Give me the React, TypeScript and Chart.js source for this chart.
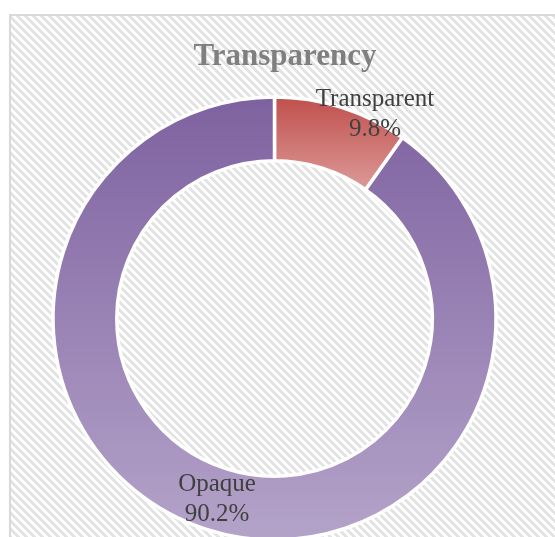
import React, { useEffect, useRef } from "react";
import { Chart, registerables } from "chart.js";

Chart.register(...registerables);

const categories: string[] = ["Transparent", "Opaque"];
const values: number[] = [9.8, 90.2];
const titleText = "Transparency";

const topColors = ["#c0504d", "#7e62a0"];
const bottomColors = ["#dc9a98", "#b4a3c9"];

const OUTER_R = 221.5;
const CUTOUT = 0.712;
// label offsets relative to each arc's center point (px)
const labelOffsets = [
  { dx: 43, dy: -23 },
  { dx: 0, dy: 0 },
];

function makeHatch(ctx: CanvasRenderingContext2D): CanvasPattern | string {
  const c = document.createElement("canvas");
  c.width = 8;
  c.height = 8;
  const p = c.getContext("2d");
  if (!p) return "#f0f0f0";
  p.fillStyle = "#ffffff";
  p.fillRect(0, 0, 8, 8);
  p.fillStyle = "#e3e3e3";
  for (let y = 0; y < 8; y++) {
    for (let x = 0; x < 8; x++) {
      if (((x - y) % 8 + 8) % 8 < 4) p.fillRect(x, y, 1, 1);
    }
  }
  return ctx.createPattern(c, "repeat") || "#f0f0f0";
}

const backgroundPlugin = {
  id: "bgHatch",
  beforeDraw(chart: any) {
    const ctx = chart.ctx as CanvasRenderingContext2D;
    ctx.save();
    ctx.fillStyle = "#ffffff";
    ctx.fillRect(0, 0, chart.width, chart.height);
    ctx.fillStyle = makeHatch(ctx) as any;
    ctx.fillRect(10, 15, chart.width, chart.height);
    ctx.strokeStyle = "#d9d9d9";
    ctx.lineWidth = 2;
    ctx.strokeRect(10, 15, chart.width + 20, chart.height + 20);
    // title
    ctx.fillStyle = "#7f7f7f";
    ctx.font = 'bold 31px "Liberation Serif", "Times New Roman", serif';
    ctx.textAlign = "center";
    ctx.textBaseline = "alphabetic";
    ctx.fillText(titleText, 285, 65);
    ctx.restore();
  },
};

const labelPlugin = {
  id: "sliceLabels",
  afterDatasetsDraw(chart: any) {
    const ctx = chart.ctx as CanvasRenderingContext2D;
    const meta = chart.getDatasetMeta(0);
    const total = values.reduce((a, b) => a + b, 0);
    ctx.save();
    ctx.fillStyle = "#404040";
    ctx.font = '25px "Liberation Serif", "Times New Roman", serif';
    ctx.textAlign = "center";
    ctx.textBaseline = "middle";
    meta.data.forEach((el: any, i: number) => {
      const pt = el.getCenterPoint();
      const off = labelOffsets[i] || { dx: 0, dy: 0 };
      const x = pt.x + off.dx;
      const y = pt.y + off.dy;
      const pct = ((values[i] / total) * 100).toFixed(1) + "%";
      ctx.fillText(categories[i], x, y - 15);
      ctx.fillText(pct, x, y + 15);
    });
    ctx.restore();
  },
};

function sliceGradient(c: any) {
  const chart = c.chart;
  const i = c.dataIndex;
  const area = chart.chartArea;
  if (!area || i === undefined) return topColors[i] || "#888";
  const cx = (area.left + area.right) / 2;
  const cy = (area.top + area.bottom) / 2;
  const total = values.reduce((a, b) => a + b, 0);
  let start = 0;
  for (let k = 0; k < i; k++) start += values[k];
  const a0 = (start / total) * Math.PI * 2;
  const a1 = ((start + values[i]) / total) * Math.PI * 2;
  const ro = OUTER_R;
  const ri = OUTER_R * CUTOUT;
  let ymin = Infinity;
  let ymax = -Infinity;
  for (let t = 0; t <= 128; t++) {
    const a = a0 + ((a1 - a0) * t) / 128;
    for (const r of [ri, ro]) {
      const y = cy - r * Math.cos(a);
      if (y < ymin) ymin = y;
      if (y > ymax) ymax = y;
    }
  }
  const g = chart.ctx.createLinearGradient(0, ymin, 0, ymax);
  g.addColorStop(0, topColors[i]);
  g.addColorStop(1, bottomColors[i]);
  return g;
}

export default function App() {
  const ref = useRef<HTMLCanvasElement | null>(null);
  useEffect(() => {
    if (!ref.current) return;
    const chart = new Chart(ref.current, {
      type: "doughnut",
      data: {
        labels: categories,
        datasets: [
          {
            data: values,
            backgroundColor: sliceGradient as any,
            borderColor: "#ffffff",
            borderWidth: 3.5,
            hoverBorderWidth: 3.5,
            hoverOffset: 0,
          },
        ],
      },
      options: {
        responsive: false,
        animation: false,
        events: [],
        radius: OUTER_R,
        cutout: CUTOUT * 100 + "%",
        layout: { padding: { left: 10, right: 61, top: 50, bottom: 13 } },
        plugins: {
          legend: { display: false },
          title: { display: false },
          tooltip: { enabled: false },
        },
      } as any,
      plugins: [backgroundPlugin, labelPlugin],
    });
    return () => chart.destroy();
  }, []);
  return (
    <div
      style={{
        position: "fixed",
        left: 0,
        top: 0,
        width: 555,
        height: 537,
        overflow: "hidden",
        background: "#fff",
      }}
    >
      <canvas
        ref={ref}
        width={600}
        height={600}
        style={{ display: "block", width: 600, height: 600 }}
      />
    </div>
  );
}
